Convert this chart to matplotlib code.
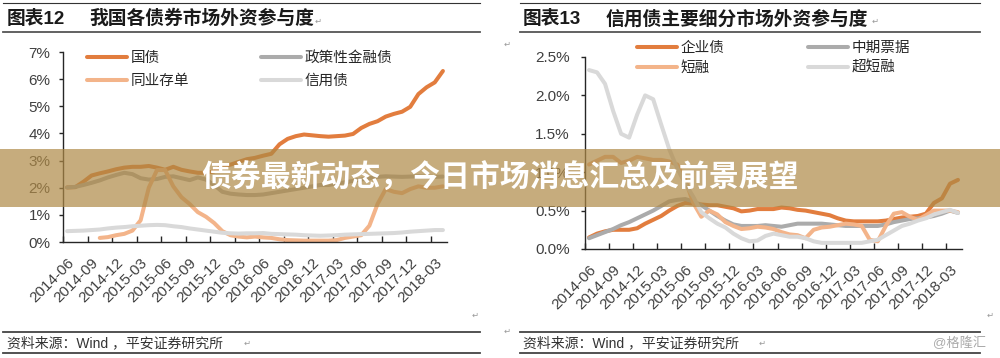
import numpy as np
import pandas as pd
import matplotlib
matplotlib.use("Agg")
import matplotlib.pyplot as plt
from matplotlib.lines import Line2D
from matplotlib.patches import Rectangle
from matplotlib.transforms import ScaledTranslation

plt.rcParams["font.family"] = ["Liberation Sans", "Noto Sans CJK SC", "DejaVu Sans"]
plt.rcParams["axes.unicode_minus"] = False

# ===== data (monthly, 2014-06 .. 2018-04, %) =====
months = [p.strftime("%Y-%m") for p in pd.period_range("2014-06", "2018-04", freq="M")]

guozhai = [2.01, 2.02, 2.22, 2.45, 2.53, 2.60, 2.68, 2.74, 2.77, 2.77,
           2.80, 2.74, 2.66, 2.77, 2.66, 2.60, 2.55, 2.55, 2.60, 2.80,
           2.85, 2.95, 3.05, 3.10, 3.18, 3.25, 3.60, 3.80, 3.90, 3.96,
           3.93, 3.90, 3.88, 3.90, 3.92, 3.98, 4.20, 4.35, 4.45, 4.62,
           4.72, 4.80, 4.98, 5.45, 5.70, 5.88, 6.30]
zhengce = [2.01, 2.03, 2.10, 2.18, 2.27, 2.38, 2.47, 2.55, 2.50, 2.35,
           2.30, 2.32, 2.40, 2.42, 2.35, 2.28, 2.38, 2.30, 2.10, 1.85,
           1.78, 1.75, 1.73, 1.73, 1.75, 1.80, 1.85, 1.90, 1.95, 2.00,
           2.05, 2.10, 2.10, 2.15, 2.20, 2.25, 2.30, 2.35, 2.40, 2.42,
           2.41, 2.40, 2.41, 2.42, 2.41, 2.40, 2.41]
tongye = [np.nan, np.nan, np.nan, np.nan, 0.15, 0.18, 0.25, 0.30, 0.42, 0.80,
          2.00, 2.65, 2.65, 2.05, 1.65, 1.40, 1.10, 0.93, 0.70, 0.40,
          0.25, 0.20, 0.17, 0.20, 0.17, 0.15, 0.10, 0.07, 0.06, 0.05,
          0.05, 0.05, 0.05, 0.07, 0.15, 0.20, 0.25, 0.60, 1.40, 1.95,
          1.85, 1.80, 1.95, 2.05, 2.00, 2.00, 2.05]
xinyong = [0.40, 0.41, 0.42, 0.44, 0.46, 0.50, 0.53, 0.55, 0.58, 0.60,
           0.62, 0.63, 0.62, 0.58, 0.55, 0.50, 0.46, 0.42, 0.38, 0.34,
           0.32, 0.31, 0.32, 0.32, 0.33, 0.30, 0.29, 0.28, 0.27, 0.25,
           0.24, 0.23, 0.24, 0.25, 0.27, 0.28, 0.29, 0.30, 0.31, 0.32,
           0.33, 0.35, 0.38, 0.40, 0.42, 0.44, 0.44]

qiye = [0.15, 0.20, 0.23, 0.25, 0.25, 0.25, 0.27, 0.33, 0.38, 0.43,
        0.50, 0.56, 0.60, 0.59, 0.58, 0.57, 0.57, 0.55, 0.53, 0.49,
        0.50, 0.52, 0.52, 0.52, 0.54, 0.53, 0.51, 0.50, 0.48, 0.46,
        0.44, 0.40, 0.37, 0.36, 0.36, 0.36, 0.36, 0.37, 0.39, 0.41,
        0.42, 0.43, 0.46, 0.60, 0.66, 0.85, 0.90]
zhongpiao = [0.14, 0.18, 0.22, 0.26, 0.31, 0.35, 0.40, 0.45, 0.50, 0.56,
             0.62, 0.64, 0.65, 0.62, 0.57, 0.50, 0.43, 0.37, 0.32, 0.30,
             0.30, 0.30, 0.31, 0.30, 0.29, 0.31, 0.33, 0.33, 0.33, 0.33,
             0.32, 0.31, 0.30, 0.30, 0.30, 0.30, 0.30, 0.32, 0.35, 0.37,
             0.39, 0.40, 0.41, 0.43, 0.46, 0.50, 0.47]
duanrong = [1.10, 1.15, 1.20, 1.20, 1.12, 1.15, 1.20, 1.18, 1.16, 1.16,
            1.14, 1.10, 0.90, 0.60, 0.42, 0.50, 0.45, 0.35, 0.30, 0.26,
            0.27, 0.29, 0.28, 0.26, 0.22, 0.19, 0.18, 0.14, 0.25, 0.28,
            0.29, 0.31, 0.33, 0.32, 0.30, 0.12, 0.10, 0.30, 0.46, 0.48,
            0.42, 0.38, 0.44, 0.50, 0.50, 0.50, 0.48]
chaoduan = [2.33, 2.30, 2.15, 1.80, 1.50, 1.45, 1.75, 2.00, 1.95, 1.62,
            1.30, 1.05, 0.85, 0.68, 0.48, 0.40, 0.33, 0.28, 0.20, 0.14,
            0.10, 0.11, 0.17, 0.20, 0.18, 0.16, 0.16, 0.14, 0.10, 0.08,
            0.08, 0.08, 0.08, 0.08, 0.08, 0.10, 0.12, 0.18, 0.24, 0.30,
            0.33, 0.37, 0.40, 0.45, 0.48, 0.51, 0.47]

c_dark = "#E27D3E"
c_gray = "#ABABAB"
c_light = "#F3B48A"
c_pale = "#D9D9D9"

W, H = 1000, 358


def fx(px):
    return px / W


def fy(py):
    return 1 - py / H


fig = plt.figure(figsize=(10, 3.58), dpi=100)
ax1 = fig.add_axes([fx(63), fy(242), fx(447) - fx(63), fy(52) - fy(242)])
ax2 = fig.add_axes([fx(585), fy(249), fx(962) - fx(585), fy(57) - fy(249)])

x = np.arange(len(months))
lw = 2.9


def draw(ax, series, labels, colors):
    lines = []
    for s, lab, c in zip(series, labels, colors):
        (ln,) = ax.plot(x, s, color=c, lw=lw, label=lab,
                        solid_capstyle="round", solid_joinstyle="round")
        lines.append(ln)
    return lines


def style(ax, ymax, ystep, fmt, ypad):
    ax.set_xlim(-0.5, len(months) - 0.5)
    ax.set_ylim(0, ymax)
    yt = np.arange(0, ymax + ystep / 2, ystep)
    ax.set_yticks(yt)
    ax.set_yticklabels([fmt.format(v) for v in yt])
    xt = np.arange(0, len(months), 3) - 0.5
    ax.set_xticks(xt)
    ax.set_xticklabels(months[::3], rotation=45, ha="right",
                       rotation_mode="anchor")
    for s in ["top", "right"]:
        ax.spines[s].set_visible(False)
    for s in ["left", "bottom"]:
        ax.spines[s].set_color("#262626")
        ax.spines[s].set_linewidth(1)
    ax.tick_params(axis="x", direction="in", length=4, width=1, pad=10,
                   labelsize=11, labelcolor="#404040", color="#262626")
    ax.tick_params(axis="y", direction="out", length=3, width=1, pad=ypad,
                   labelsize=11, labelcolor="#404040", color="#262626")
    off = ScaledTranslation(0.04, 0, fig.dpi_scale_trans)
    for lab in ax.get_xticklabels():
        lab.set_transform(lab.get_transform() + off)


l1 = draw(ax1, [guozhai, zhengce, tongye, xinyong],
          ["国债", "政策性金融债", "同业存单", "信用债"],
          [c_dark, c_gray, c_light, c_pale])
style(ax1, 7, 1, "{:.0f}%", 6)

l2 = draw(ax2, [qiye, zhongpiao, duanrong, chaoduan],
          ["企业债", "中期票据", "短融", "超短融"],
          [c_dark, c_gray, c_light, c_pale])
style(ax2, 2.5, 0.5, "{:.1f}%", 8)

leg_kw = dict(ncol=2, frameon=False, loc="upper left", borderaxespad=0,
              borderpad=0, handlelength=2.75, handletextpad=0.25,
              bbox_transform=fig.transFigure,
              prop={"family": ["Noto Sans CJK SC"], "size": 10.5})
leg1 = ax1.legend([l1[0], l1[2], l1[1], l1[3]],
                  [l1[0].get_label(), l1[2].get_label(),
                   l1[1].get_label(), l1[3].get_label()],
                  bbox_to_anchor=(fx(87), fy(51)), columnspacing=4.9,
                  labelspacing=0.62, **leg_kw)
leg2 = ax2.legend([l2[0], l2[2], l2[1], l2[3]],
                  [l2[0].get_label(), l2[2].get_label(),
                   l2[1].get_label(), l2[3].get_label()],
                  bbox_to_anchor=(fx(637), fy(41)), columnspacing=5.7,
                  labelspacing=0.4, **leg_kw)
for leg in (leg1, leg2):
    for t in leg.get_texts():
        t.set_color("#262626")

# rules and titles
def rule(x0, x1, y, lw=1.0, color="#333333"):
    fig.add_artist(Line2D([fx(x0), fx(x1)], [fy(y), fy(y)], lw=lw,
                          color=color, transform=fig.transFigure))


for (a, b) in [(3, 480), (520, 980)]:
    rule(a, b, 3, 0.8)
    rule(a, b, 32, 1.3, "#555555")
    rule(a, b, 332, 1.3, "#444444")
    rule(a, b, 353, 1.3, "#444444")

cjk = ["Liberation Sans", "Noto Sans CJK SC"]
fig.text(fx(7), fy(19), "图表12", fontsize=13.5, fontweight="bold",
         va="center", family=cjk, color="#1a1a1a")
fig.text(fx(89), fy(19), "我国各债券市场外资参与度", fontsize=13.5,
         fontweight="bold", va="center", family=cjk, color="#1a1a1a")
fig.text(fx(523), fy(19), "图表13", fontsize=13.5, fontweight="bold",
         va="center", family=cjk, color="#1a1a1a")
fig.text(fx(606), fy(19), "信用债主要细分市场外资参与度", fontsize=13.5,
         fontweight="bold", va="center", family=cjk, color="#1a1a1a")

src = "资料来源：Wind ，平安证券研究所"
fig.text(fx(7), fy(343), src, fontsize=10, va="center", family=cjk,
         color="#333333")
fig.text(fx(523), fy(343), src, fontsize=10, va="center", family=cjk,
         color="#333333")
fig.text(fx(986), fy(343), "@格隆汇", fontsize=9.5, va="center", ha="right",
         family=cjk, color="#AAAAAA")

# paragraph marks
for (px, py) in [(318, 21), (475, 315), (247, 343), (875, 21), (507, 44),
                 (990, 315), (507, 331), (762, 343)]:
    fig.text(fx(px), fy(py), "↵", fontsize=6, va="center", ha="center",
             family=["DejaVu Sans"], color="#999999")

# banner overlay
fig.add_artist(Rectangle((0, fy(207)), 1, fy(149) - fy(207),
                         transform=fig.transFigure,
                         facecolor=(174 / 255, 137 / 255, 70 / 255),
                         alpha=0.7, edgecolor="none", zorder=10))
fig.text(0.5, fy(178), "债券最新动态，今日市场消息汇总及前景展望",
         ha="center", va="center", fontsize=21.5, fontweight="bold",
         color="white", family=["Noto Sans CJK SC"], zorder=11)

fig.savefig("out.png", dpi=100)
